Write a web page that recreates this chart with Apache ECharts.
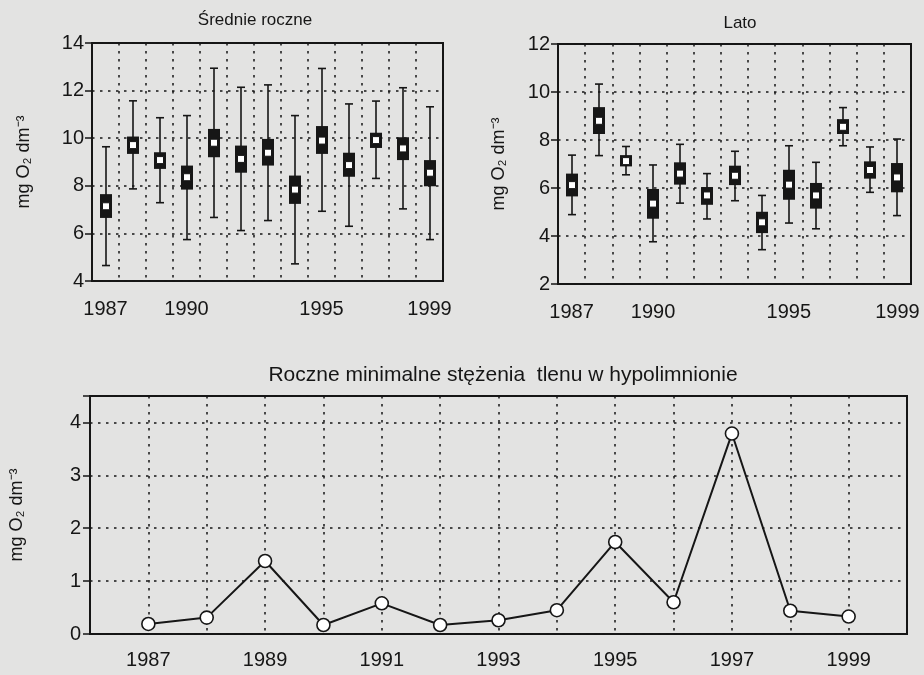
<!DOCTYPE html>
<html>
<head>
<meta charset="utf-8">
<title>Tlen rozpuszczony 1987–1999</title>
<script src="https://cdn.jsdelivr.net/npm/echarts@6/dist/echarts.min.js"></script>
<style>
  html, body { margin: 0; padding: 0; background: #e3e3e2; }
  #chart { width: 924px; height: 675px; }
</style>
</head>
<body>
<div id="chart"></div>
<script>
// Years of observation
const years = ['1987','1988','1989','1990','1991','1992','1993','1994','1995','1996','1997','1998','1999'];

// Annual means (Średnie roczne): whisker low, box low, centre, box high, whisker high
const annualLow  = [4.65, 7.87, 7.29, 5.74, 6.67, 6.12, 6.54, 4.72, 6.93, 6.30, 8.31, 7.03, 5.74];
const annualQ1   = [6.65, 9.34, 8.71, 7.84, 9.20, 8.55, 8.85, 7.24, 9.34, 8.38, 9.59, 9.08, 7.98];
const annualMid  = [7.14, 9.71, 9.08, 8.36, 9.81, 9.13, 9.39, 7.84, 9.90, 8.87, 9.92, 9.57, 8.55];
const annualQ3   = [7.65, 10.07, 9.41, 8.85, 10.39, 9.69, 9.97, 8.43, 10.51, 9.39, 10.23, 10.04, 9.08];
const annualHigh = [9.64, 11.57, 10.86, 10.95, 12.94, 12.14, 12.24, 10.95, 12.93, 11.44, 11.56, 12.12, 11.32];

// Summer (Lato)
const summerLow  = [4.89, 7.35, 6.55, 3.76, 5.37, 4.71, 5.47, 3.43, 4.54, 4.30, 7.76, 5.82, 4.85];
const summerQ1   = [5.65, 8.25, 6.90, 4.72, 6.14, 5.30, 6.12, 4.12, 5.51, 5.14, 8.25, 6.39, 5.82];
const summerMid  = [6.12, 8.80, 7.12, 5.35, 6.60, 5.69, 6.51, 4.57, 6.14, 5.69, 8.55, 6.75, 6.44];
const summerQ3   = [6.60, 9.37, 7.37, 5.96, 7.07, 6.04, 6.93, 5.01, 6.76, 6.21, 8.87, 7.11, 7.04];
const summerHigh = [7.37, 10.33, 7.73, 6.96, 7.82, 6.60, 7.53, 5.69, 7.76, 7.07, 9.35, 7.71, 8.04];

// Annual minimum oxygen in the hypolimnion
const minOxygen = [0.19, 0.31, 1.38, 0.17, 0.58, 0.17, 0.26, 0.45, 1.74, 0.60, 3.79, 0.44, 0.33];

// Tick labels
const topTickYears = ['1987', '1990', '1995', '1999'];
const bottomTickYears = [1987, 1989, 1991, 1993, 1995, 1997, 1999];

const INK = '#161616';
const FONT = '"Liberation Sans", Arial, sans-serif';
const yName = 'mg O\u2082 dm\u207B\u00B3';

function boxRows(lo, q1, mid, q3, hi) {
  return years.map((y, i) => [i, lo[i], q1[i], mid[i], q3[i], hi[i]]);
}

// Whisker + filled box + open square at the centre value
function renderBox(params, api) {
  const i = api.value(0);
  const lo = api.coord([i, api.value(1)]);
  const q1 = api.coord([i, api.value(2)]);
  const md = api.coord([i, api.value(3)]);
  const q3 = api.coord([i, api.value(4)]);
  const hi = api.coord([i, api.value(5)]);
  const cx = Math.round(lo[0]);
  const boxW = 12, capW = 8, sq = 7;
  const stroke = { stroke: INK, lineWidth: 1.6 };
  return {
    type: 'group',
    children: [
      { type: 'line', shape: { x1: cx, y1: hi[1], x2: cx, y2: lo[1] }, style: stroke },
      { type: 'line', shape: { x1: cx - capW / 2, y1: hi[1], x2: cx + capW / 2, y2: hi[1] }, style: stroke },
      { type: 'line', shape: { x1: cx - capW / 2, y1: lo[1], x2: cx + capW / 2, y2: lo[1] }, style: stroke },
      { type: 'rect', shape: { x: cx - boxW / 2, y: q3[1], width: boxW, height: q1[1] - q3[1] }, style: { fill: INK } },
      { type: 'rect', shape: { x: cx - sq / 2, y: md[1] - sq / 2, width: sq, height: sq }, style: { fill: '#ffffff', stroke: INK, lineWidth: 1 } }
    ]
  };
}

const dotted = { color: INK, width: 1.5, type: [2.5, 5.5] };
const labelStyle = { color: INK, fontSize: 20, fontFamily: FONT };
const nameStyle = { color: INK, fontSize: 18, fontFamily: FONT };
const yAxisLine = { show: true, lineStyle: { color: INK, width: 2 } };
const yTicks = { show: true, inside: false, length: 7, lineStyle: { color: INK, width: 1.5 } };

function topXAxis(gridIndex) {
  return {
    type: 'category', gridIndex, data: years, boundaryGap: true,
    axisLine: { show: false },
    axisTick: { show: false },
    axisLabel: Object.assign({
      interval: 0, margin: 18,
      formatter: v => topTickYears.includes(v) ? v : ''
    }, labelStyle),
    splitLine: { show: true, interval: 0, lineStyle: dotted }
  };
}

function topYAxis(gridIndex, min, max, gap) {
  return {
    type: 'value', gridIndex, min, max, interval: 2,
    name: yName, nameLocation: 'middle', nameGap: gap, nameRotate: 90,
    nameTextStyle: nameStyle,
    axisLine: yAxisLine,
    axisTick: yTicks,
    axisLabel: Object.assign({ margin: 8 }, labelStyle),
    splitLine: { show: true, lineStyle: dotted }
  };
}

const frame = { show: true, borderColor: INK, borderWidth: 2, backgroundColor: 'transparent' };

const option = {
  backgroundColor: '#e3e3e2',
  animation: false,
  title: [
    { text: 'Średnie roczne', left: 250, top: 7, textAlign: 'center',
      textStyle: { color: INK, fontSize: 17, fontWeight: 'normal', fontFamily: FONT } },
    { text: 'Lato', left: 735, top: 10, textAlign: 'center',
      textStyle: { color: INK, fontSize: 17, fontWeight: 'normal', fontFamily: FONT } },
    { text: 'Roczne minimalne stężenia  tlenu w hypolimnionie', left: 498, top: 360, textAlign: 'center',
      textStyle: { color: INK, fontSize: 21, fontWeight: 'normal', fontFamily: FONT } }
  ],
  grid: [
    Object.assign({ left: 92, top: 43, width: 351, height: 238 }, frame),
    Object.assign({ left: 558, top: 44, width: 353, height: 240 }, frame),
    Object.assign({ left: 89, top: 396, width: 818, height: 238 }, frame)
  ],
  xAxis: [
    topXAxis(0),
    topXAxis(1),
    {
      type: 'value', gridIndex: 2, min: 1986, max: 2000, interval: 1,
      axisLine: { show: false },
      axisTick: { show: false },
      axisLabel: Object.assign({
        margin: 16,
        formatter: v => bottomTickYears.includes(v) ? String(v) : ''
      }, labelStyle),
      splitLine: { show: true, lineStyle: dotted }
    }
  ],
  yAxis: [
    topYAxis(0, 4, 14, 59),
    topYAxis(1, 2, 12, 50),
    {
      type: 'value', gridIndex: 2, min: 0, max: 4.5, interval: 1,
      name: yName, nameLocation: 'middle', nameGap: 64, nameRotate: 90,
      nameTextStyle: nameStyle,
      axisLine: yAxisLine,
      axisTick: yTicks,
      axisLabel: Object.assign({
        margin: 9,
        formatter: v => Number.isInteger(v) ? String(v) : ''
      }, labelStyle),
      splitLine: { show: true, lineStyle: dotted }
    }
  ],
  series: [
    {
      type: 'custom', xAxisIndex: 0, yAxisIndex: 0,
      renderItem: renderBox,
      encode: { x: 0, y: [1, 2, 3, 4, 5] },
      data: boxRows(annualLow, annualQ1, annualMid, annualQ3, annualHigh)
    },
    {
      type: 'custom', xAxisIndex: 1, yAxisIndex: 1,
      renderItem: renderBox,
      encode: { x: 0, y: [1, 2, 3, 4, 5] },
      data: boxRows(summerLow, summerQ1, summerMid, summerQ3, summerHigh)
    },
    {
      type: 'line', xAxisIndex: 2, yAxisIndex: 2,
      data: years.map((y, i) => [Number(y), minOxygen[i]]),
      symbol: 'circle', symbolSize: 13,
      lineStyle: { color: INK, width: 2 },
      itemStyle: { color: '#ffffff', borderColor: INK, borderWidth: 1.6 },
      z: 3
    }
  ]
};

const chart = echarts.init(document.getElementById('chart'), null, { renderer: 'canvas' });
chart.setOption(option);
</script>
</body>
</html>
